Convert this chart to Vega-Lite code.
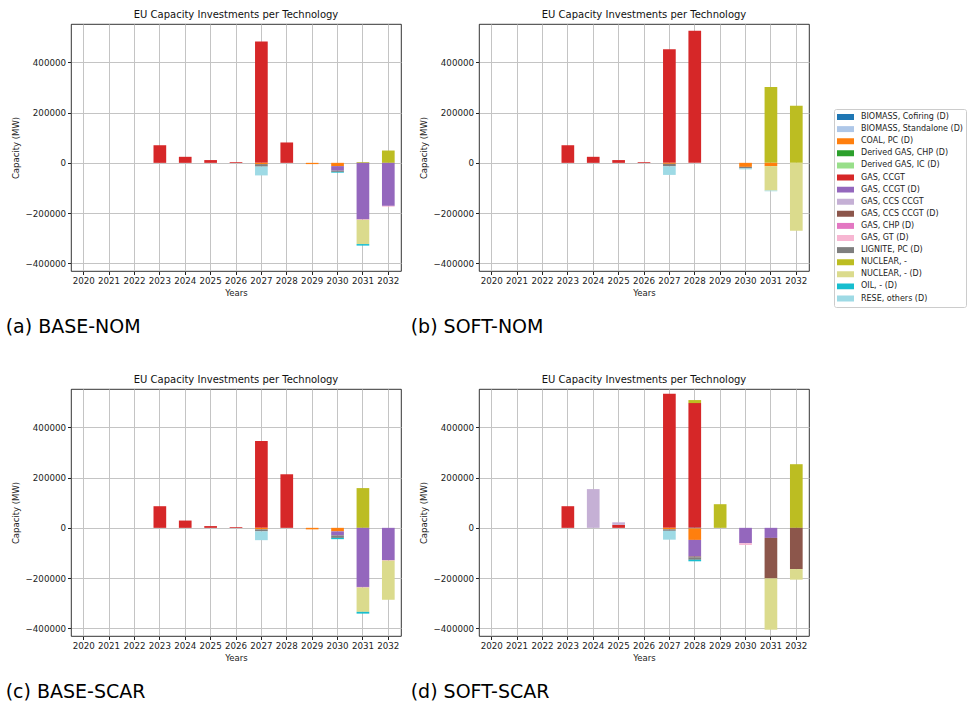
{
  "$schema": "https://vega.github.io/schema/vega-lite/v6.json",
  "background": "white",
  "padding": {"left": 5, "top": 9, "right": 0, "bottom": 0},
  "data": {
    "values": [
      {"scenario": "BASE-NOM", "year": "2023", "technology": "GAS, CCGT", "capacity": 70000},
      {"scenario": "BASE-NOM", "year": "2024", "technology": "GAS, CCGT", "capacity": 24000},
      {"scenario": "BASE-NOM", "year": "2025", "technology": "GAS, CCGT", "capacity": 11000},
      {"scenario": "BASE-NOM", "year": "2026", "technology": "GAS, CCGT", "capacity": 3000},
      {"scenario": "BASE-NOM", "year": "2027", "technology": "GAS, CCGT", "capacity": 482000},
      {"scenario": "BASE-NOM", "year": "2027", "technology": "COAL, PC (D)", "capacity": -5000},
      {"scenario": "BASE-NOM", "year": "2027", "technology": "LIGNITE, PC (D)", "capacity": -10000},
      {"scenario": "BASE-NOM", "year": "2027", "technology": "RESE, others (D)", "capacity": -35000},
      {"scenario": "BASE-NOM", "year": "2028", "technology": "GAS, CCGT", "capacity": 81000},
      {"scenario": "BASE-NOM", "year": "2029", "technology": "COAL, PC (D)", "capacity": -5000},
      {"scenario": "BASE-NOM", "year": "2030", "technology": "COAL, PC (D)", "capacity": -13000},
      {"scenario": "BASE-NOM", "year": "2030", "technology": "GAS, CCGT (D)", "capacity": -18000},
      {"scenario": "BASE-NOM", "year": "2030", "technology": "LIGNITE, PC (D)", "capacity": -5000},
      {"scenario": "BASE-NOM", "year": "2030", "technology": "OIL, - (D)", "capacity": -3000},
      {"scenario": "BASE-NOM", "year": "2031", "technology": "NUCLEAR, -", "capacity": 3000},
      {"scenario": "BASE-NOM", "year": "2031", "technology": "GAS, CCGT (D)", "capacity": -224000},
      {"scenario": "BASE-NOM", "year": "2031", "technology": "GAS, CHP (D)", "capacity": -2000},
      {"scenario": "BASE-NOM", "year": "2031", "technology": "NUCLEAR, - (D)", "capacity": -97000},
      {"scenario": "BASE-NOM", "year": "2031", "technology": "OIL, - (D)", "capacity": -6000},
      {"scenario": "BASE-NOM", "year": "2032", "technology": "NUCLEAR, -", "capacity": 49000},
      {"scenario": "BASE-NOM", "year": "2032", "technology": "GAS, CCGT (D)", "capacity": -171000},
      {"scenario": "BASE-NOM", "year": "2032", "technology": "GAS, GT (D)", "capacity": -3000},

      {"scenario": "SOFT-NOM", "year": "2023", "technology": "GAS, CCGT", "capacity": 70000},
      {"scenario": "SOFT-NOM", "year": "2024", "technology": "GAS, CCGT", "capacity": 24000},
      {"scenario": "SOFT-NOM", "year": "2025", "technology": "GAS, CCGT", "capacity": 11000},
      {"scenario": "SOFT-NOM", "year": "2026", "technology": "GAS, CCGT", "capacity": 3000},
      {"scenario": "SOFT-NOM", "year": "2027", "technology": "GAS, CCGT", "capacity": 452000},
      {"scenario": "SOFT-NOM", "year": "2027", "technology": "COAL, PC (D)", "capacity": -4000},
      {"scenario": "SOFT-NOM", "year": "2027", "technology": "LIGNITE, PC (D)", "capacity": -10000},
      {"scenario": "SOFT-NOM", "year": "2027", "technology": "RESE, others (D)", "capacity": -34000},
      {"scenario": "SOFT-NOM", "year": "2028", "technology": "GAS, CCGT", "capacity": 525000},
      {"scenario": "SOFT-NOM", "year": "2030", "technology": "COAL, PC (D)", "capacity": -16000},
      {"scenario": "SOFT-NOM", "year": "2030", "technology": "LIGNITE, PC (D)", "capacity": -6000},
      {"scenario": "SOFT-NOM", "year": "2030", "technology": "RESE, others (D)", "capacity": -4000},
      {"scenario": "SOFT-NOM", "year": "2031", "technology": "NUCLEAR, -", "capacity": 302000},
      {"scenario": "SOFT-NOM", "year": "2031", "technology": "COAL, PC (D)", "capacity": -13000},
      {"scenario": "SOFT-NOM", "year": "2031", "technology": "NUCLEAR, - (D)", "capacity": -97000},
      {"scenario": "SOFT-NOM", "year": "2031", "technology": "RESE, others (D)", "capacity": -3000},
      {"scenario": "SOFT-NOM", "year": "2032", "technology": "NUCLEAR, -", "capacity": 227000},
      {"scenario": "SOFT-NOM", "year": "2032", "technology": "NUCLEAR, - (D)", "capacity": -270000},

      {"scenario": "BASE-SCAR", "year": "2023", "technology": "GAS, CCGT", "capacity": 86000},
      {"scenario": "BASE-SCAR", "year": "2024", "technology": "GAS, CCGT", "capacity": 29000},
      {"scenario": "BASE-SCAR", "year": "2025", "technology": "GAS, CCGT", "capacity": 7000},
      {"scenario": "BASE-SCAR", "year": "2026", "technology": "GAS, CCGT", "capacity": 3000},
      {"scenario": "BASE-SCAR", "year": "2027", "technology": "GAS, CCGT", "capacity": 345000},
      {"scenario": "BASE-SCAR", "year": "2027", "technology": "COAL, PC (D)", "capacity": -6000},
      {"scenario": "BASE-SCAR", "year": "2027", "technology": "LIGNITE, PC (D)", "capacity": -8000},
      {"scenario": "BASE-SCAR", "year": "2027", "technology": "RESE, others (D)", "capacity": -35000},
      {"scenario": "BASE-SCAR", "year": "2028", "technology": "GAS, CCGT", "capacity": 213000},
      {"scenario": "BASE-SCAR", "year": "2029", "technology": "COAL, PC (D)", "capacity": -6000},
      {"scenario": "BASE-SCAR", "year": "2030", "technology": "COAL, PC (D)", "capacity": -14000},
      {"scenario": "BASE-SCAR", "year": "2030", "technology": "GAS, CCGT (D)", "capacity": -16000},
      {"scenario": "BASE-SCAR", "year": "2030", "technology": "LIGNITE, PC (D)", "capacity": -10000},
      {"scenario": "BASE-SCAR", "year": "2030", "technology": "OIL, - (D)", "capacity": -5000},
      {"scenario": "BASE-SCAR", "year": "2031", "technology": "NUCLEAR, -", "capacity": 158000},
      {"scenario": "BASE-SCAR", "year": "2031", "technology": "GAS, CCGT (D)", "capacity": -235000},
      {"scenario": "BASE-SCAR", "year": "2031", "technology": "GAS, CHP (D)", "capacity": -2000},
      {"scenario": "BASE-SCAR", "year": "2031", "technology": "NUCLEAR, - (D)", "capacity": -97000},
      {"scenario": "BASE-SCAR", "year": "2031", "technology": "OIL, - (D)", "capacity": -7000},
      {"scenario": "BASE-SCAR", "year": "2032", "technology": "GAS, CCGT (D)", "capacity": -128000},
      {"scenario": "BASE-SCAR", "year": "2032", "technology": "GAS, CHP (D)", "capacity": -2000},
      {"scenario": "BASE-SCAR", "year": "2032", "technology": "NUCLEAR, - (D)", "capacity": -156000},

      {"scenario": "SOFT-SCAR", "year": "2023", "technology": "GAS, CCGT", "capacity": 86000},
      {"scenario": "SOFT-SCAR", "year": "2024", "technology": "GAS, CCS CCGT", "capacity": 154000},
      {"scenario": "SOFT-SCAR", "year": "2025", "technology": "GAS, CCGT", "capacity": 12000},
      {"scenario": "SOFT-SCAR", "year": "2025", "technology": "GAS, CCS CCGT", "capacity": 10000},
      {"scenario": "SOFT-SCAR", "year": "2027", "technology": "GAS, CCGT", "capacity": 533000},
      {"scenario": "SOFT-SCAR", "year": "2027", "technology": "COAL, PC (D)", "capacity": -6000},
      {"scenario": "SOFT-SCAR", "year": "2027", "technology": "LIGNITE, PC (D)", "capacity": -6000},
      {"scenario": "SOFT-SCAR", "year": "2027", "technology": "RESE, others (D)", "capacity": -35000},
      {"scenario": "SOFT-SCAR", "year": "2028", "technology": "GAS, CCGT", "capacity": 496000},
      {"scenario": "SOFT-SCAR", "year": "2028", "technology": "NUCLEAR, -", "capacity": 12000},
      {"scenario": "SOFT-SCAR", "year": "2028", "technology": "BIOMASS, Cofiring (D)", "capacity": -2000},
      {"scenario": "SOFT-SCAR", "year": "2028", "technology": "COAL, PC (D)", "capacity": -46000},
      {"scenario": "SOFT-SCAR", "year": "2028", "technology": "GAS, CCGT (D)", "capacity": -66000},
      {"scenario": "SOFT-SCAR", "year": "2028", "technology": "GAS, CCS CCGT (D)", "capacity": -3000},
      {"scenario": "SOFT-SCAR", "year": "2028", "technology": "LIGNITE, PC (D)", "capacity": -10000},
      {"scenario": "SOFT-SCAR", "year": "2028", "technology": "OIL, - (D)", "capacity": -6000},
      {"scenario": "SOFT-SCAR", "year": "2029", "technology": "NUCLEAR, -", "capacity": 94000},
      {"scenario": "SOFT-SCAR", "year": "2030", "technology": "GAS, CCGT (D)", "capacity": -61000},
      {"scenario": "SOFT-SCAR", "year": "2030", "technology": "GAS, GT (D)", "capacity": -7000},
      {"scenario": "SOFT-SCAR", "year": "2031", "technology": "GAS, CCGT (D)", "capacity": -40000},
      {"scenario": "SOFT-SCAR", "year": "2031", "technology": "GAS, CCS CCGT (D)", "capacity": -161000},
      {"scenario": "SOFT-SCAR", "year": "2031", "technology": "NUCLEAR, - (D)", "capacity": -204000},
      {"scenario": "SOFT-SCAR", "year": "2032", "technology": "NUCLEAR, -", "capacity": 253000},
      {"scenario": "SOFT-SCAR", "year": "2032", "technology": "GAS, CCS CCGT (D)", "capacity": -164000},
      {"scenario": "SOFT-SCAR", "year": "2032", "technology": "NUCLEAR, - (D)", "capacity": -42000}
    ]
  },
  "vconcat": [
    {
      "hconcat": [
        {
          "title": {"text": "(a) BASE-NOM", "orient": "bottom", "anchor": "start", "fontSize": 19, "color": "#000", "offset": 21, "dx": -5},
          "vconcat": [{
            "width": 330, "height": 247,
            "title": {"text": "EU Capacity Investments per Technology", "anchor": "middle", "frame": "group", "offset": 4},
            "transform": [{"filter": "datum.scenario === 'BASE-NOM'"}],
            "mark": {"type": "bar"},
            "encoding": {
              "x": {"field": "year", "type": "ordinal", "title": "Years",
                    "scale": {"domain": ["2020","2021","2022","2023","2024","2025","2026","2027","2028","2029","2030","2031","2032"], "paddingInner": 0.5, "paddingOuter": 0.25},
                    "axis": {"labelAngle": 0, "bandPosition": 0.5, "labelOverlap": false}},
              "y": {"field": "capacity", "type": "quantitative", "title": "Capacity (MW)", "stack": "zero",
                    "scale": {"domain": [-430000, 552000], "nice": false, "zero": false},
                    "axis": {"values": [-400000, -200000, 0, 200000, 400000], "format": "d"}},
              "color": {"field": "technology", "type": "nominal"},
              "order": {"field": "technology", "sort": "ascending"}
            }
          }]
        },
        {
          "title": {"text": "(b) SOFT-NOM", "orient": "bottom", "anchor": "start", "fontSize": 19, "color": "#000", "offset": 21, "dx": -8},
          "vconcat": [{
            "width": 330, "height": 247,
            "title": {"text": "EU Capacity Investments per Technology", "anchor": "middle", "frame": "group", "offset": 4},
            "transform": [{"filter": "datum.scenario === 'SOFT-NOM'"}],
            "mark": {"type": "bar"},
            "encoding": {
              "x": {"field": "year", "type": "ordinal", "title": "Years",
                    "scale": {"domain": ["2020","2021","2022","2023","2024","2025","2026","2027","2028","2029","2030","2031","2032"], "paddingInner": 0.5, "paddingOuter": 0.25},
                    "axis": {"labelAngle": 0, "bandPosition": 0.5, "labelOverlap": false}},
              "y": {"field": "capacity", "type": "quantitative", "title": "Capacity (MW)", "stack": "zero",
                    "scale": {"domain": [-430000, 552000], "nice": false, "zero": false},
                    "axis": {"values": [-400000, -200000, 0, 200000, 400000], "format": "d"}},
              "color": {"field": "technology", "type": "nominal"},
              "order": {"field": "technology", "sort": "ascending"}
            }
          }]
        }
      ],
      "spacing": 8
    },
    {
      "hconcat": [
        {
          "title": {"text": "(c) BASE-SCAR", "orient": "bottom", "anchor": "start", "fontSize": 19, "color": "#000", "offset": 21, "dx": -5},
          "vconcat": [{
            "width": 330, "height": 247,
            "title": {"text": "EU Capacity Investments per Technology", "anchor": "middle", "frame": "group", "offset": 4},
            "transform": [{"filter": "datum.scenario === 'BASE-SCAR'"}],
            "mark": {"type": "bar"},
            "encoding": {
              "x": {"field": "year", "type": "ordinal", "title": "Years",
                    "scale": {"domain": ["2020","2021","2022","2023","2024","2025","2026","2027","2028","2029","2030","2031","2032"], "paddingInner": 0.5, "paddingOuter": 0.25},
                    "axis": {"labelAngle": 0, "bandPosition": 0.5, "labelOverlap": false}},
              "y": {"field": "capacity", "type": "quantitative", "title": "Capacity (MW)", "stack": "zero",
                    "scale": {"domain": [-430000, 552000], "nice": false, "zero": false},
                    "axis": {"values": [-400000, -200000, 0, 200000, 400000], "format": "d"}},
              "color": {"field": "technology", "type": "nominal"},
              "order": {"field": "technology", "sort": "ascending"}
            }
          }]
        },
        {
          "title": {"text": "(d) SOFT-SCAR", "orient": "bottom", "anchor": "start", "fontSize": 19, "color": "#000", "offset": 21, "dx": -8},
          "vconcat": [{
            "width": 330, "height": 247,
            "title": {"text": "EU Capacity Investments per Technology", "anchor": "middle", "frame": "group", "offset": 4},
            "transform": [{"filter": "datum.scenario === 'SOFT-SCAR'"}],
            "mark": {"type": "bar"},
            "encoding": {
              "x": {"field": "year", "type": "ordinal", "title": "Years",
                    "scale": {"domain": ["2020","2021","2022","2023","2024","2025","2026","2027","2028","2029","2030","2031","2032"], "paddingInner": 0.5, "paddingOuter": 0.25},
                    "axis": {"labelAngle": 0, "bandPosition": 0.5, "labelOverlap": false}},
              "y": {"field": "capacity", "type": "quantitative", "title": "Capacity (MW)", "stack": "zero",
                    "scale": {"domain": [-430000, 552000], "nice": false, "zero": false},
                    "axis": {"values": [-400000, -200000, 0, 200000, 400000], "format": "d"}},
              "color": {"field": "technology", "type": "nominal",
                        "scale": {
                          "domain": ["BIOMASS, Cofiring (D)", "BIOMASS, Standalone (D)", "COAL, PC (D)", "Derived GAS, CHP (D)", "Derived GAS, IC (D)", "GAS, CCGT", "GAS, CCGT (D)", "GAS, CCS CCGT", "GAS, CCS CCGT (D)", "GAS, CHP (D)", "GAS, GT (D)", "LIGNITE, PC (D)", "NUCLEAR, -", "NUCLEAR, - (D)", "OIL, - (D)", "RESE, others (D)"],
                          "range": ["#1f77b4", "#aec7e8", "#ff7f0e", "#2ca02c", "#98df8a", "#d62728", "#9467bd", "#c5b0d5", "#8c564b", "#e377c2", "#f7b6d2", "#7f7f7f", "#bcbd22", "#dbdb8d", "#17becf", "#9edae5"]
                        },
                        "legend": {"orient": "none", "legendX": 763, "legendY": 85}},
              "order": {"field": "technology", "sort": "ascending"}
            }
          }]
        }
      ],
      "spacing": 8
    }
  ],
  "spacing": 36,
  "resolve": {"scale": {"color": "shared"}, "legend": {"color": "shared"}},
  "config": {
    "font": "DejaVu Sans",
    "view": {"stroke": "#000", "strokeWidth": 0.8},
    "axis": {
      "domain": false, "grid": true, "gridColor": "#c4c4c4", "gridWidth": 1,
      "tickColor": "#222", "tickSize": 3.5, "labelPadding": 2,
      "labelFont": "DejaVu Sans", "labelFontSize": 8.7, "labelColor": "#222",
      "titleFont": "DejaVu Sans", "titleFontSize": 8.5, "titleFontWeight": "normal", "titleColor": "#222"
    },
    "axisX": {"titlePadding": 3},
    "axisY": {"titlePadding": 5},
    "title": {"font": "DejaVu Sans", "fontWeight": "normal", "fontSize": 10, "color": "#111"},
    "legend": {
      "title": null,
      "symbolType": "M-1,-0.35H1V0.35H-1Z", "symbolSize": 289, "symbolStrokeWidth": 0, "symbolOpacity": 1,
      "labelFont": "DejaVu Sans", "labelFontSize": 8, "labelColor": "#222", "labelLimit": 200, "labelOffset": 7,
      "clipHeight": 10, "rowPadding": 2.1,
      "padding": 3, "strokeColor": "#cccccc", "cornerRadius": 2
    }
  }
}
